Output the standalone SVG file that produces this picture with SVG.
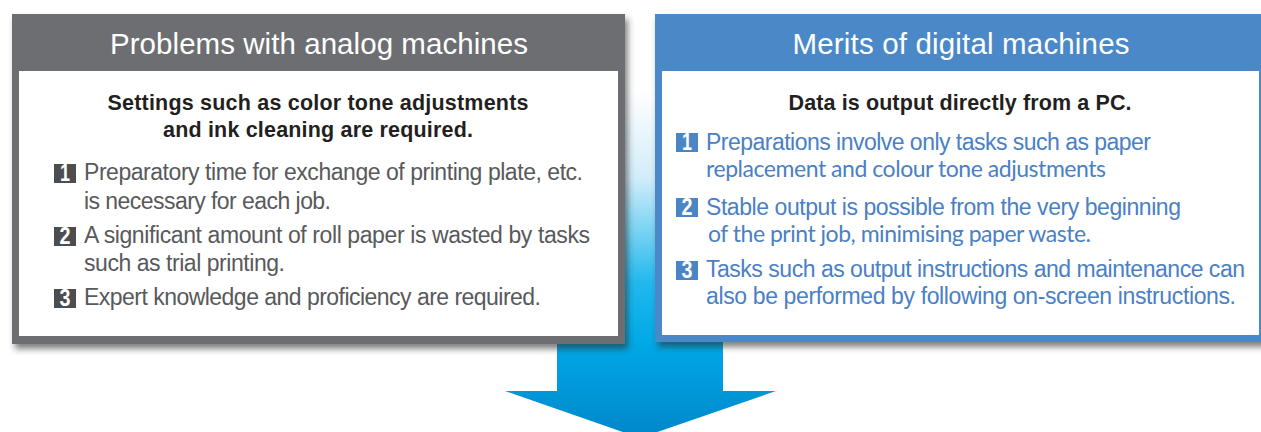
<svg xmlns="http://www.w3.org/2000/svg" width="1261" height="432" viewBox="0 0 1261 432">
<defs>
<linearGradient id="barGrad" gradientUnits="userSpaceOnUse" x1="0" y1="90" x2="0" y2="440">
<stop offset="0" stop-color="#ffffff"/>
<stop offset="0.25" stop-color="#d2edf9"/>
<stop offset="0.55" stop-color="#22b8ee"/>
<stop offset="0.72" stop-color="#00a9e5"/>
<stop offset="1" stop-color="#0086cb"/>
</linearGradient>
<filter id="shadow" x="-5%" y="-10%" width="112%" height="125%">
<feDropShadow dx="3" dy="5" stdDeviation="3" flood-color="#2a2a2a" flood-opacity="0.6"/>
</filter>
<style>
.hdr{font-family:"Liberation Sans",Arial,sans-serif;font-size:29.5px;fill:#ffffff;text-anchor:middle}
.sub{font-family:"Liberation Sans",Arial,sans-serif;font-size:21.5px;font-weight:bold;fill:#231f20;text-anchor:middle}
.itemL{font-family:"Liberation Sans",Arial,sans-serif;font-size:23px;fill:#58595b}
.itemR{font-family:"Liberation Sans",Arial,sans-serif;font-size:23px;fill:#4a80c4}
.itemR2{font-family:Lato,"Liberation Sans",sans-serif;font-size:23px;fill:#4a80c4}
.num{font-family:"Liberation Sans",Arial,sans-serif;font-size:23px;font-weight:bold;fill:#ffffff;text-anchor:middle}
.badgeL{fill:#4d4d4f}
.badgeR{fill:#4a86c6}
</style>
</defs>
<rect x="0" y="0" width="1261" height="432" fill="#ffffff"/>
<g id="connectors">
<path d="M557,0 H723 V391 H776 L640,438 L505,391 H557 Z" fill="url(#barGrad)"/>
</g>
<g id="analog">
<rect x="12" y="14" width="613" height="330" fill="#6d6e71" filter="url(#shadow)"/>
<rect x="19" y="71" width="599" height="265" fill="#ffffff"/>
<text class="hdr" x="319" y="54" textLength="418">Problems with analog machines</text>
<text class="sub" x="318" y="110" textLength="421">Settings such as color tone adjustments</text>
<text class="sub" x="318" y="137" textLength="310">and ink cleaning are required.</text>
<rect class="badgeL" x="54" y="164" width="22" height="19"/>
<text class="num" x="65" y="181" textLength="10" lengthAdjust="spacingAndGlyphs">1</text>
<text class="itemL" x="84" y="180" textLength="499">Preparatory time for exchange of printing plate, etc.</text>
<text class="itemL" x="84" y="209" textLength="247">is necessary for each job.</text>
<rect class="badgeL" x="54" y="227" width="22" height="19"/>
<text class="num" x="65" y="244" textLength="11" lengthAdjust="spacingAndGlyphs">2</text>
<text class="itemL" x="84" y="243" textLength="506">A significant amount of roll paper is wasted by tasks</text>
<text class="itemL" x="84" y="271" textLength="201">such as trial printing.</text>
<rect class="badgeL" x="54" y="289" width="22" height="19"/>
<text class="num" x="65" y="306" textLength="11" lengthAdjust="spacingAndGlyphs">3</text>
<text class="itemL" x="84" y="305" textLength="457">Expert knowledge and proficiency are required.</text>
</g>
<g id="digital">
<rect x="655" y="14" width="620" height="328" fill="#4b88c7" filter="url(#shadow)"/>
<rect x="662" y="71" width="597" height="264" fill="#ffffff"/>
<text class="hdr" x="961" y="54" textLength="337">Merits of digital machines</text>
<text class="sub" x="960" y="110" textLength="343">Data is output directly from a PC.</text>
<rect class="badgeR" x="676" y="133" width="22" height="19"/>
<text class="num" x="687" y="150" textLength="10" lengthAdjust="spacingAndGlyphs">1</text>
<text class="itemR" x="706" y="150" textLength="445">Preparations involve only tasks such as paper</text>
<text class="itemR2" x="706" y="177" textLength="400">replacement and colour tone adjustments</text>
<rect class="badgeR" x="676" y="198" width="22" height="19"/>
<text class="num" x="687" y="215" textLength="11" lengthAdjust="spacingAndGlyphs">2</text>
<text class="itemR" x="706" y="215" textLength="475">Stable output is possible from the very beginning</text>
<text class="itemR2" x="708" y="242" textLength="383">of the print job, minimising paper waste.</text>
<rect class="badgeR" x="676" y="261" width="22" height="19"/>
<text class="num" x="687" y="278" textLength="11" lengthAdjust="spacingAndGlyphs">3</text>
<text class="itemR" x="706" y="277" textLength="539">Tasks such as output instructions and maintenance can</text>
<text class="itemR" x="706" y="304" textLength="530">also be performed by following on-screen instructions.</text>
</g>
</svg>
